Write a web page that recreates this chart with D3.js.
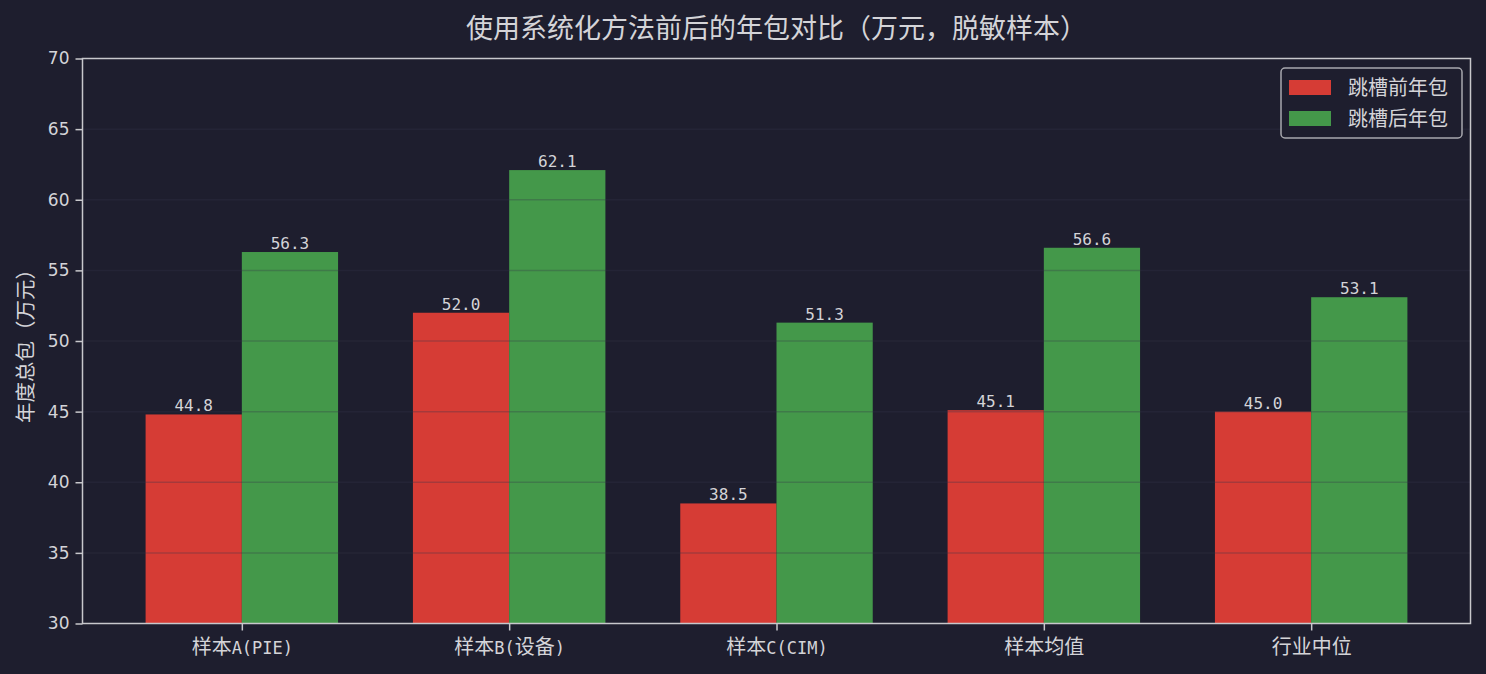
<!DOCTYPE html>
<html>
<head>
<meta charset="utf-8">
<script src="https://cdn.jsdelivr.net/npm/d3@7"></script>
<style>
  html, body { margin: 0; padding: 0; background: #1e1e2e; }
  svg { display: block; }
</style>
</head>
<body>
<div id="chart"></div>
<script>
const categories = ["样本A(PIE)", "样本B(设备)", "样本C(CIM)", "样本均值", "行业中位"];
const beforePay = [44.8, 52.0, 38.5, 45.1, 45.0];
const afterPay = [56.3, 62.1, 51.3, 56.6, 53.1];
const seriesNames = ["跳槽前年包", "跳槽后年包"];
const seriesColors = ["#d63c35", "#44984a"];
const yTicks = [30, 35, 40, 45, 50, 55, 60, 65, 70];

const W = 1486, H = 674;
const margin = {top: 58.5, right: 15.5, bottom: 50.5, left: 82.5};
const width = W - margin.left - margin.right;
const height = H - margin.top - margin.bottom;
const barW = 0.36;
const cjk = "'Noto Sans CJK SC', 'DejaVu Sans', sans-serif";
const mono = "'DejaVu Sans Mono', monospace";
const textColor = "#d4d4d8";
const spineColor = "#c8c8cc";

// split a label into CJK runs and half-width latin runs
function fillMixed(sel, str, cjkSize, latinSize) {
    const runs = str.match(/[\u0000-\u00ff]+|[^\u0000-\u00ff]+/g) || [];
    sel.text(null).style("font-size", cjkSize + "px");
    runs.forEach(r => {
        const latin = /^[\u0000-\u00ff]+$/.test(r);
        sel.append("tspan")
            .style("font-family", latin ? mono : cjk)
            .style("font-size", (latin ? latinSize : cjkSize) + "px")
            .text(r);
    });
}

const svg = d3.select("#chart").append("svg")
    .attr("width", W)
    .attr("height", H);
svg.append("rect").attr("width", W).attr("height", H).attr("fill", "#1e1e2e");

const g = svg.append("g").attr("transform", `translate(${margin.left}, ${margin.top})`);

const pad = (categories.length - 1 + 2 * barW) * 0.05;
const x = d3.scaleLinear()
    .domain([-barW - pad, categories.length - 1 + barW + pad])
    .range([0, width]);
const y = d3.scaleLinear().domain([30, 70]).range([height, 0]);

const series = [beforePay, afterPay];

// bars
series.forEach((vals, si) => {
    const off = si === 0 ? -barW / 2 : barW / 2;
    g.append("g").selectAll("rect")
        .data(vals)
        .enter()
        .append("rect")
            .attr("x", (d, i) => x(i + off - barW / 2))
            .attr("width", x(barW) - x(0))
            .attr("y", d => y(d))
            .attr("height", d => y(30) - y(d))
            .attr("fill", seriesColors[si]);

    g.append("g").selectAll("text")
        .data(vals)
        .enter()
        .append("text")
            .attr("x", (d, i) => x(i + off))
            .attr("y", d => y(d) - 3)
            .attr("text-anchor", "middle")
            .attr("fill", textColor)
            .style("font-family", mono)
            .style("font-size", "16px")
            .text(d => d.toFixed(1));
});

// grid on top of bars
g.append("g").selectAll("line")
    .data(yTicks.slice(1, -1))
    .enter()
    .append("line")
        .attr("x1", 0).attr("x2", width)
        .attr("y1", d => y(d)).attr("y2", d => y(d))
        .attr("stroke", "#34344a")
        .attr("stroke-opacity", 0.3)
        .attr("stroke-width", 1.5);

// axes
const yAxis = g.append("g")
    .call(d3.axisLeft(y).tickValues(yTicks).tickSize(7).tickPadding(6));
const xAxis = g.append("g")
    .attr("transform", `translate(0, ${height})`)
    .call(d3.axisBottom(x).tickValues(d3.range(categories.length))
        .tickFormat(i => categories[i]).tickSize(7).tickPadding(9));

[xAxis, yAxis].forEach(a => {
    a.select(".domain").remove();
    a.selectAll("line").attr("stroke", spineColor).attr("stroke-width", 1.5);
    a.selectAll("text").attr("fill", textColor);
});
yAxis.selectAll("text").style("font-family", "'DejaVu Sans', sans-serif").style("font-size", "17px");
xAxis.selectAll("text").each(function(i) {
    fillMixed(d3.select(this), categories[i], 20, 17);
});

// spines
g.append("rect")
    .attr("width", width).attr("height", height)
    .attr("fill", "none")
    .attr("stroke", spineColor)
    .attr("stroke-width", 1.5);

// title and axis label
svg.append("text")
    .attr("x", margin.left + width / 2)
    .attr("y", 38)
    .attr("text-anchor", "middle")
    .attr("fill", textColor)
    .style("font-family", cjk)
    .style("font-size", "27px")
    .text("使用系统化方法前后的年包对比（万元，脱敏样本）");

svg.append("text")
    .attr("transform", `translate(33, ${margin.top + height / 2}) rotate(-90)`)
    .attr("text-anchor", "middle")
    .attr("fill", textColor)
    .style("font-family", cjk)
    .style("font-size", "20.5px")
    .text("年度总包（万元）");

// legend
const legend = svg.append("g").attr("transform", `translate(1281, 68)`);
legend.append("rect")
    .attr("width", 181).attr("height", 70)
    .attr("rx", 4)
    .attr("fill", "#1e1e2e")
    .attr("stroke", "#a8a8ae")
    .attr("stroke-width", 1.5);
seriesNames.forEach((name, i) => {
    const row = legend.append("g").attr("transform", `translate(0, ${i * 31})`);
    row.append("rect")
        .attr("x", 8).attr("y", 12)
        .attr("width", 42).attr("height", 15)
        .attr("fill", seriesColors[i]);
    row.append("text")
        .attr("x", 67).attr("y", 27)
        .attr("fill", textColor)
        .style("font-family", cjk)
        .style("font-size", "20px")
        .text(name);
});
</script>
</body>
</html>
